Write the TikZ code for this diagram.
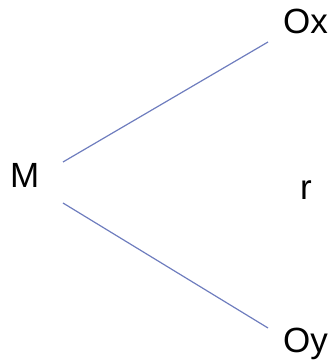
\documentclass[tikz,border=0pt]{standalone}
\usepackage{fontspec}
\setmainfont{Liberation Sans}
\definecolor{linecol}{RGB}{110,125,190}
\begin{document}
\begin{tikzpicture}[x=1pt,y=1pt,
  lbl/.style={anchor=base west,inner sep=0pt,font=\fontsize{35}{42}\selectfont},
  conn/.style={draw=linecol,line width=1.2pt}]
\useasboundingbox (0,0) rectangle (334,364);
\node[lbl] (M) at (10,176) {M};
\node[lbl] (Ox) at (283,330) {Ox};
\node[lbl] (Oy) at (283,11) {Oy};
\node[lbl] (r) at (300,164) {r};
\coordinate (a1) at (63,202);
\coordinate (a2) at (268,322);
\coordinate (b1) at (63,161);
\coordinate (b2) at (268,36);
\draw[conn] (a1) -- (a2);
\draw[conn] (b1) -- (b2);
\end{tikzpicture}
\end{document}
